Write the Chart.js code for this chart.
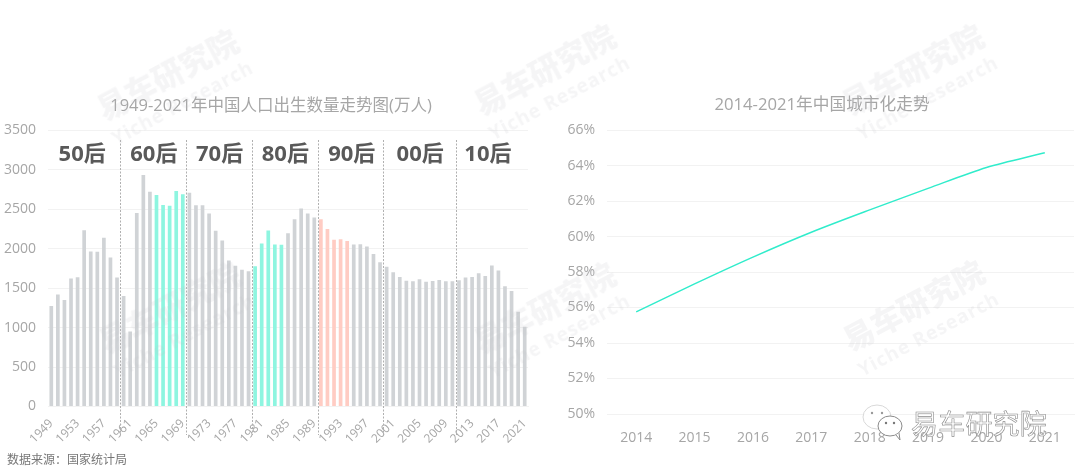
<!DOCTYPE html>
<html>
<head>
<meta charset="utf-8">
<script src="https://cdn.jsdelivr.net/npm/chart.js@4"></script>
<style>
    html, body { margin: 0; background: #fff; }
    body { position: relative; width: 1080px; height: 472px; overflow: hidden; font-family: "Open Sans", "Noto Sans CJK SC", sans-serif; }
    .box { position: absolute; top: 0; height: 472px; }
    #leftBox { left: 0; width: 542px; }
    #rightBox { left: 562px; width: 520px; }
    .source { position: absolute; left: 7px; top: 450px; font-size: 12px; color: #777; }
    .mark { position: absolute; width: 240px; margin-left: -120px; margin-top: -32px; transform: rotate(-28deg); text-align: center; color: rgba(190,194,198,0.16); font-weight: 700; pointer-events: none; white-space: nowrap; }
    .mark b { display: block; font-size: 31px; line-height: 40px; }
    .mark span { display: block; font-size: 19px; line-height: 24px; letter-spacing: 1px; }
    .logoText { position: absolute; left: 911px; top: 406px; font-size: 27px; line-height: 36px; color: rgba(255,255,255,0.75); -webkit-text-stroke: 0.6px #8a8a8a; letter-spacing: 0.2px; }
    .logoIcon { position: absolute; left: 862px; top: 402px; }
</style>
</head>
<body>
<div class="box" id="leftBox"><canvas id="birthChart" width="542" height="472"></canvas></div>
<div class="box" id="rightBox"><canvas id="urbanChart" width="520" height="472"></canvas></div>
<div class="source">数据来源：国家统计局</div>
<div id="marks"></div>
<svg class="logoIcon" width="46" height="42" viewBox="0 0 46 42">
    <ellipse cx="15" cy="15" rx="14" ry="12" fill="rgba(255,255,255,0.9)" stroke="#d8d8d8"/>
    <circle cx="10" cy="11" r="1.2" fill="#999"/><circle cx="20" cy="11" r="1.2" fill="#999"/>
    <ellipse cx="28" cy="24" rx="12" ry="10" fill="#fff" stroke="#8a8a8a"/>
    <path d="M34 33 L38 38 L37 31" fill="#fff" stroke="#8a8a8a"/>
    <circle cx="24" cy="21" r="1.2" fill="#777"/><circle cx="32" cy="21" r="1.2" fill="#777"/>
</svg>
<script>
const years = [];
for (let y = 1949; y <= 2021; y++) years.push(String(y));

const births = [1275, 1419, 1349, 1622, 1637, 2232, 1965, 1961, 2138, 1889,
    1635, 1400, 949, 2451, 2934, 2721, 2679, 2554, 2543, 2731,
    2690, 2710, 2551, 2550, 2447, 2226, 2102, 1849, 1783, 1733,
    1715, 1776, 2064, 2230, 2052, 2050, 2196, 2374, 2508, 2445,
    2396, 2374, 2250, 2113, 2120, 2098, 2052, 2057, 2028, 1934,
    1827, 1771, 1702, 1641, 1594, 1588, 1612, 1581, 1591, 1604,
    1587, 1588, 1600, 1635, 1640, 1687, 1655, 1786, 1723, 1523,
    1465, 1200, 1010];

const tealYears = ['1965', '1966', '1967', '1968', '1969', '1980', '1981', '1982', '1983', '1984'];
const pinkYears = ['1990', '1991', '1992', '1993', '1994'];

const decadeLabels = ['50后', '60后', '70后', '80后', '90后', '00后', '10后'];
const decadeCenters = [4.7, 15.6, 25.6, 35.6, 45.7, 56.1, 66.4]; // category index
const dividers = [10.5, 20.5, 30.5, 40.5, 50.5, 61.5];

const urbanYears = ['2014', '2015', '2016', '2017', '2018', '2019', '2020', '2021'];
const urbanRate = [55.75, 57.33, 58.84, 60.24, 61.5, 62.71, 63.89, 64.72];

const FONT = '"Open Sans", "Noto Sans CJK SC", sans-serif';
const GREY = '#a6a6a6';
const GRID = '#f2f2f2';

// empty axis on the right, keeps the title centred on the whole canvas
function spacerAxis(width) {
    return {
        position: 'right',
        grid: { display: false },
        border: { display: false },
        ticks: { display: false },
        afterFit(scale) { scale.width = width; }
    };
}

// dashed dividers and the 50后, 60后... labels
const decadePlugin = {
    id: 'decades',
    afterDatasetsDraw(chart) {
        const ctx = chart.ctx, x = chart.scales.x;
        ctx.save();
        ctx.strokeStyle = '#b0b0b0';
        ctx.lineWidth = 1;
        ctx.setLineDash([2, 1.5]);
        dividers.forEach(d => {
            const px = Math.round(x.getPixelForValue(d)) + 0.5;
            ctx.beginPath();
            ctx.moveTo(px, 140);
            ctx.lineTo(px, 435);
            ctx.stroke();
        });
        ctx.fillStyle = '#595959';
        ctx.font = 'bold 22px ' + FONT;
        ctx.textAlign = 'center';
        ctx.textBaseline = 'middle';
        decadeLabels.forEach((t, i) => ctx.fillText(t, x.getPixelForValue(decadeCenters[i]), 155));
        ctx.restore();
    }
};

new Chart(document.getElementById('birthChart'), {
    type: 'bar',
    data: {
        labels: years,
        datasets: [{
            data: births,
            backgroundColor: years.map(y => tealYears.includes(y) ? '#8ef5e0' : pinkYears.includes(y) ? '#ffccc3' : '#d0d3d6'),
            categoryPercentage: 1,
            barPercentage: 0.56
        }]
    },
    options: {
        responsive: false,
        animation: false,
        plugins: {
            legend: { display: false },
            tooltip: { enabled: false },
            title: {
                display: true,
                text: '1949-2021年中国人口出生数量走势图(万人)',
                color: GREY,
                font: { family: FONT, size: 16.5, weight: 'normal' },
                padding: { top: 96.5, bottom: 14 }
            }
        },
        scales: {
            x: {
                grid: { display: false },
                border: { color: GRID },
                afterFit(scale) { scale.height = 65.5; },
                ticks: {
                    autoSkip: false,
                    minRotation: 45,
                    maxRotation: 45,
                    color: GREY,
                    font: { family: FONT, size: 12 },
                    padding: 2,
                    callback(value, index) { return index % 4 === 0 ? this.getLabelForValue(value) : ''; }
                }
            },
            y: {
                min: 0,
                max: 3500,
                grid: { color: GRID, drawTicks: false },
                border: { display: false },
                afterFit(scale) { scale.width = 48; },
                ticks: { stepSize: 500, color: GREY, padding: 12, font: { family: FONT, size: 14 }, callback: v => String(v) }
            },
            spacer: spacerAxis(14)
        }
    },
    plugins: [decadePlugin]
});

new Chart(document.getElementById('urbanChart'), {
    type: 'line',
    data: {
        labels: urbanYears,
        datasets: [{
            data: urbanRate,
            borderColor: '#30eccb',
            borderWidth: 1.4,
            pointRadius: 0,
            tension: 0.3,
            fill: false
        }]
    },
    options: {
        responsive: false,
        animation: false,
        plugins: {
            legend: { display: false },
            tooltip: { enabled: false },
            title: {
                display: true,
                text: '2014-2021年中国城市化走势',
                color: GREY,
                font: { family: FONT, size: 16.7, weight: 'normal' },
                padding: { top: 95, bottom: 15 }
            }
        },
        scales: {
            x: {
                offset: true,
                grid: { display: false },
                border: { color: GRID },
                afterFit(scale) { scale.height = 58; },
                ticks: { color: GREY, padding: 8, maxRotation: 0, font: { family: FONT, size: 14 } }
            },
            y: {
                min: 50,
                max: 66,
                grid: { color: GRID, drawTicks: false },
                border: { display: false },
                afterFit(scale) { scale.width = 45; },
                ticks: {
                    stepSize: 2,
                    color: GREY,
                    padding: 12,
                    font: { family: FONT, size: 14 },
                    callback: v => v + '%'
                }
            },
            spacer: spacerAxis(8)
        }
    }
});

// watermark stamps laid over both charts
const markSpots = [[173, 85], [550, 80], [918, 80], [175, 318], [550, 318], [919, 316]];
markSpots.forEach(s => {
    const el = document.createElement('div');
    el.className = 'mark';
    el.style.left = s[0] + 'px';
    el.style.top = s[1] + 'px';
    el.innerHTML = '<b>易车研究院</b><span>Yiche Research</span>';
    document.getElementById('marks').appendChild(el);
});
const logo = document.createElement('div');
logo.className = 'logoText';
logo.textContent = '易车研究院';
document.body.appendChild(logo);
</script>
</body>
</html>
